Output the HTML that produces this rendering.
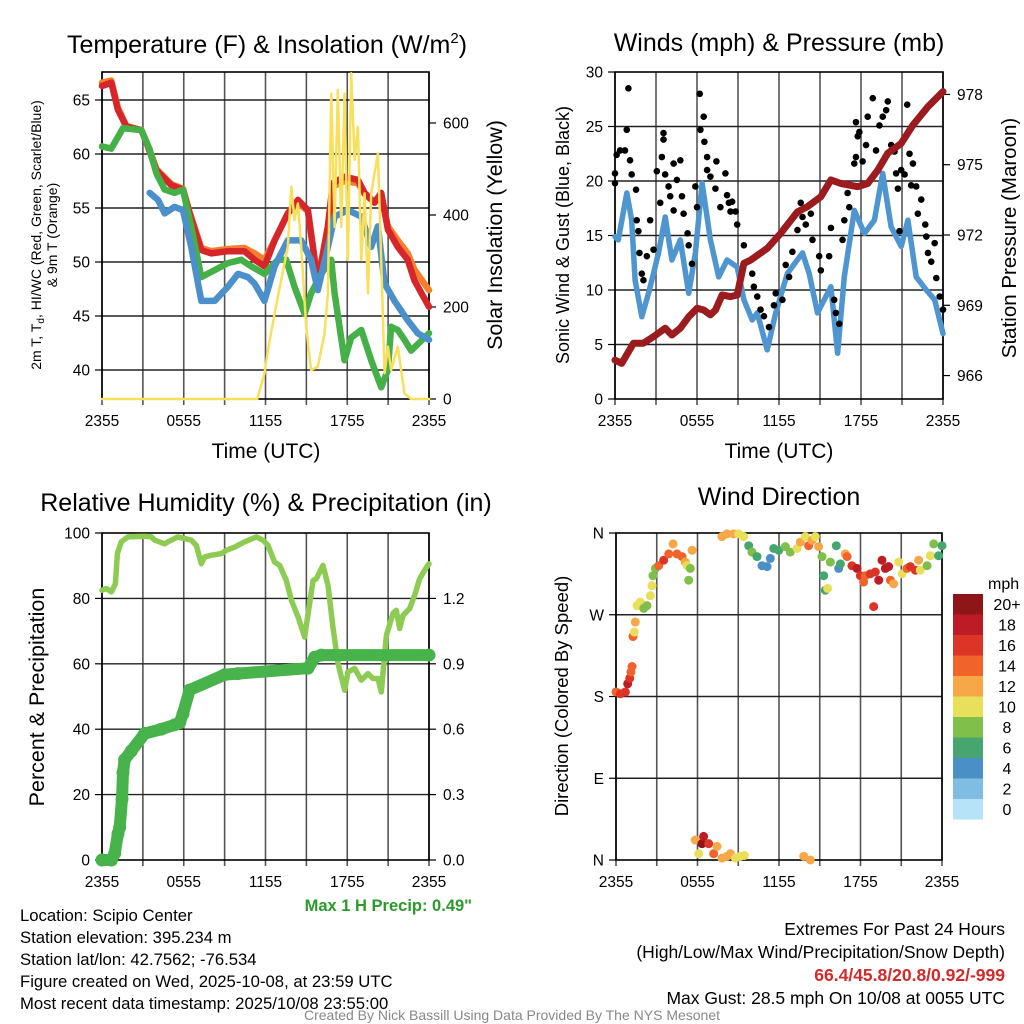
<!DOCTYPE html>
<html><head><meta charset="utf-8"><style>
body{margin:0;background:#fff;}
svg{display:block;font-family:"Liberation Sans",Arial,sans-serif;}
</style></head><body>
<svg id="fig" width="1024" height="1024" viewBox="0 0 1024 1024" xmlns="http://www.w3.org/2000/svg">
<rect width="1024" height="1024" fill="#fff"/>
<g id="p1"></g>
<g id="p2"></g>
<g id="p3"></g>
<g id="p4"></g>
<text x="267" y="53" font-size="25" text-anchor="middle">Temperature (F) &amp; Insolation (W/m<tspan font-size="15" dy="-10">2</tspan><tspan dy="10">)</tspan></text>
<text x="779" y="51" font-size="25" text-anchor="middle">Winds (mph) &amp; Pressure (mb)</text>
<text x="266" y="511" font-size="25" text-anchor="middle">Relative Humidity (%) &amp; Precipitation (in)</text>
<text x="779" y="505" font-size="25" text-anchor="middle">Wind Direction</text>
<text transform="translate(41,235) rotate(-90)" font-size="14" text-anchor="middle">2m T, T<tspan font-size="10" dy="3">d</tspan><tspan dy="-3">, HI/WC (Red, Green, Scarlet/Blue)</tspan></text>
<text transform="translate(57,235) rotate(-90)" font-size="14" text-anchor="middle">&amp; 9m T (Orange)</text>
<text transform="translate(502,235) rotate(-90)" font-size="21.5" text-anchor="middle">Solar Insolation (Yellow)</text>
<text transform="translate(569,235) rotate(-90)" font-size="18" text-anchor="middle">Sonic Wind &amp; Gust (Blue, Black)</text>
<text transform="translate(1016,238) rotate(-90)" font-size="20.5" text-anchor="middle">Station Pressure (Maroon)</text>
<text transform="translate(44,697) rotate(-90)" font-size="21.5" text-anchor="middle">Percent &amp; Precipitation</text>
<text transform="translate(568,696) rotate(-90)" font-size="18.5" text-anchor="middle">Direction (Colored By Speed)</text>
<text x="266" y="458" font-size="21" text-anchor="middle">Time (UTC)</text>
<text x="779" y="458" font-size="21" text-anchor="middle">Time (UTC)</text>
<text x="472" y="911" font-size="16.5" font-weight="bold" fill="#2a9a2a" text-anchor="end">Max 1 H Precip: 0.49"</text>
<g font-size="16.7">
<text x="20" y="921">Location: Scipio Center</text>
<text x="20" y="943">Station elevation: 395.234 m</text>
<text x="20" y="965">Station lat/lon: 42.7562; -76.534</text>
<text x="20" y="987">Figure created on Wed, 2025-10-08, at 23:59 UTC</text>
<text x="20" y="1009">Most recent data timestamp: 2025/10/08 23:55:00</text>
</g>
<g font-size="17.5" text-anchor="end">
<text x="1005" y="935">Extremes For Past 24 Hours</text>
<text x="1005" y="958">(High/Low/Max Wind/Precipitation/Snow Depth)</text>
<text x="1005" y="981" font-weight="bold" fill="#d42a2a">66.4/45.8/20.8/0.92/-999</text>
<text x="1005" y="1004">Max Gust: 28.5 mph On 10/08 at 0055 UTC</text>
</g>
<text x="512" y="1020" font-size="14" fill="#888" text-anchor="middle">Created By Nick Bassill Using Data Provided By The NYS Mesonet</text>
<g id="cbar"></g>
</svg>
<script>
// ---- Temperature panel data (hours since 2355 UTC) ----
const tRedH=[0,0.68,1.17,1.78,2.89,3.37,3.99,5.09,5.94,6.43,7.29,8.02,9.24,10.46,11.2,11.93,12.67,13.64,14.38,15.11,15.84,16.58,16.94,17.8,18.78,19.27,20.0,20.49,20.98,21.71,22.44,22.93,24];
const tRed=[66.3,66.6,64.1,62.55,62.2,60.7,58.5,57.1,56.7,54.5,51.1,50.8,51.0,51.0,50.2,49.6,52.0,54.5,55.75,54.8,48.0,53.3,57.3,57.9,57.6,56.4,55.5,56.4,53.0,51.4,50.2,48.3,45.85];
const tOrange=[66.6,66.8,64.3,62.6,62.2,60.8,58.6,57.2,56.8,54.6,51.3,51.0,51.2,51.3,50.8,50.2,52.0,54.5,55.5,54.7,48.3,53.3,57.0,57.5,57.3,56.3,55.5,56.2,53.3,52.0,50.8,49.3,47.4];
const tGreenH=[0,0.68,1.54,2.89,3.5,3.99,4.6,5.33,5.94,6.55,7.29,9.24,10.22,10.95,11.93,12.91,13.52,14.13,14.87,15.35,16.09,16.82,17.07,17.8,18.29,19.03,19.76,20.49,20.98,21.22,21.71,22.2,22.69,24];
const tGreen=[60.7,60.5,62.4,62.2,60.4,58.2,56.7,56.4,56.7,53.3,48.6,49.9,50.2,49.6,48.9,50.2,50.2,47.7,45.2,47.1,48.9,50.2,47.1,40.9,43.0,43.7,40.9,38.4,40.0,44.0,43.7,42.8,41.8,43.4];
const tBlueH=[3.5,4.11,4.6,5.33,5.94,6.55,7.29,8.27,9.24,9.98,10.71,11.2,11.93,12.67,13.64,14.62,15.35,15.84,16.58,17.07,18.05,19.03,19.76,20.25,20.74,21.47,22.44,23.18,24];
const tBlue=[56.4,55.75,54.5,55.1,54.8,51.4,46.4,46.4,47.7,48.9,48.6,48.0,46.4,49.6,52.0,52.0,50.2,47.4,51.4,54.2,54.8,54.2,51.4,53.3,48.0,46.4,44.6,43.4,42.8];
const solarH=[0,11.4,11.93,12.18,12.67,13.64,13.89,14.13,14.38,14.62,14.99,15.35,15.84,16.33,16.58,16.82,17.07,17.31,17.56,17.8,18.05,18.29,18.54,18.78,19.03,19.27,19.52,19.76,20.25,20.49,20.74,20.98,21.22,21.71,22.2,22.69,24];
const solar=[0,0,56,106,186,331,461,389,425,331,157,63,70,142,230,664,374,672,374,664,302,708,520,592,302,447,230,447,534,302,56,114,63,114,12,0,0];
// ---- Winds panel data ----
const windH=[0,0.24,0.86,1.22,1.47,1.96,2.45,2.82,3.18,3.67,4.16,4.78,5.39,5.88,6.37,6.98,7.59,8.2,8.94,9.43,10.04,10.41,11.14,11.76,12.61,13.72,14.21,14.82,15.8,16.29,16.78,17.51,18.25,18.98,19.59,20.2,20.94,21.43,22.04,22.78,23.39,24];
const wind=[14.9,14.6,18.9,16.4,10.9,7.55,9.7,11.5,13.4,16.7,12.75,14.6,9.7,13.4,19.8,14.6,11.2,12.75,12.1,9.1,7.25,7.9,4.5,7.9,11.5,13.4,11.5,7.9,10.3,4.2,11.2,17.3,15.2,16.4,20.7,15.8,14.0,16.4,11.2,10.0,9.1,6.0];
const gustH=[0,0,0.12,0.37,0.73,0.98,0.86,1.10,1.22,1.54,1.59,1.71,1.79,1.96,2.08,2.33,2.57,2.82,3.06,3.43,3.55,3.55,3.67,3.31,3.92,4.04,4.29,4.78,4.53,4.29,4.90,5.02,5.31,5.39,5.63,5.88,6.00,6.20,6.25,6.49,6.54,6.74,6.74,6.98,7.42,7.35,7.71,8.08,8.20,8.33,8.45,8.57,8.82,8.94,9.43,10.04,10.16,10.41,10.65,10.90,11.27,11.63,11.76,12.25,12.49,12.74,12.98,13.35,13.59,13.72,13.96,14.33,14.45,14.94,15.06,15.67,15.80,16.04,16.16,16.41,16.65,16.78,17.02,17.14,17.51,17.63,17.76,17.88,17.63,18.12,18.37,18.49,18.86,19.10,19.35,19.59,19.84,19.96,20.21,20.45,20.57,20.70,20.82,20.94,21.19,21.38,21.55,21.80,21.67,22.04,22.16,22.41,22.70,22.78,22.90,23.14,23.39,23.51,23.76,24.0];
const gust=[19.8,20.7,22.4,22.8,22.8,28.5,24.7,21.9,20.6,19.2,16.4,15.4,13.4,11.5,10.9,13.1,16.4,13.7,20.9,22.2,24.4,23.8,20.6,18.0,19.5,18.6,21.6,21.9,20.1,17.3,18.6,17.0,15.2,14.1,12.4,19.5,17.6,28.0,24.7,25.9,23.6,22.2,21.0,20.4,21.8,19.3,17.6,20.7,18.7,18.0,17.2,18.1,17.2,16.0,14.1,11.5,10.3,9.4,8.2,7.6,6.6,8.6,9.7,9.1,12.3,11.2,13.5,15.5,18.0,16.7,16.0,17.0,14.6,13.1,11.8,13.1,15.7,9.1,7.9,6.9,14.6,16.4,18.9,17.6,21.6,22.2,24.1,24.5,25.4,21.8,23.3,25.9,27.6,22.8,25.1,25.9,26.5,27.3,23.3,22.7,20.7,19.3,15.4,21.0,20.6,27.0,22.5,21.6,19.6,19.5,17.0,18.3,16.0,14.9,13.4,12.6,14.3,11.1,9.4,8.2];
const presH=[0,0.49,1.35,2.08,2.82,3.67,4.16,4.78,5.39,6.0,6.49,6.98,7.35,7.84,8.45,8.94,9.43,9.92,11.14,12.12,13.35,14.08,15.06,15.8,16.53,17.76,18.49,19.23,19.96,20.94,21.8,22.9,24];
const pres=[966.66,966.52,967.38,967.38,967.66,968.02,967.73,968.02,968.51,968.87,968.80,968.59,968.80,969.44,969.37,969.44,970.79,970.93,971.43,972.07,972.99,973.21,973.63,974.35,974.20,974.06,974.20,974.77,975.49,975.91,976.69,977.48,978.12];
// ---- Humidity panel data ----
const rhH=[0,0.32,0.69,0.98,1.13,1.42,1.91,3.13,3.62,3.87,4.6,4.84,5.58,6.07,6.56,6.92,7.29,7.54,8.02,8.76,9.13,9.74,10.47,11.33,11.82,12.18,12.67,13.04,13.53,13.9,14.39,14.87,15.49,15.73,16.22,16.59,16.95,17.32,17.81,18.05,18.54,19.03,19.52,19.89,20.26,20.5,20.87,21.36,21.6,21.85,22.09,22.58,22.95,23.31,23.68,24];
const rh=[82.5,83.0,82.0,84.5,93.7,97.3,98.8,99.0,98.8,97.8,96.7,97.3,98.8,98.3,97.8,96.2,90.6,92.7,93.2,93.7,94.7,95.7,97.3,98.8,97.8,96.2,91.1,90.1,85.5,79.4,74.3,68.2,85.5,86.0,90.1,84.0,71.3,60.1,51.9,57.5,58.6,55.0,57.0,55.5,55.5,51.4,68.7,75.4,76.4,70.8,74.8,76.9,81.0,86.0,88.6,90.6];
const pcpH=[0,0.69,0.93,1.17,1.30,1.47,1.54,1.66,2.15,3.13,4.35,5.33,5.70,5.94,6.43,9.0,9.98,15.12,15.61,16.1,24];
const pcp=[0,0,0.03,0.12,0.15,0.28,0.40,0.46,0.50,0.58,0.60,0.62,0.63,0.67,0.78,0.85,0.855,0.88,0.93,0.94,0.94];
// ---- Direction panel data ----
const dirH=[0.0,0.32,0.69,0.86,1.01,1.10,1.18,1.25,1.35,1.42,1.55,1.79,2.04,2.28,2.53,2.65,2.72,2.90,3.14,3.51,3.88,4.20,4.49,4.86,5.10,5.23,5.47,5.35,5.60,5.84,6.09,6.33,6.45,6.82,7.19,7.44,7.80,8.17,8.42,8.79,9.15,9.45,7.80,8.17,8.66,9.03,9.40,9.77,10.01,10.38,10.75,11.12,11.36,11.61,11.98,12.47,12.83,13.33,13.57,13.94,14.18,14.43,14.67,14.92,15.17,15.29,15.41,15.58,13.82,14.31,15.78,16.22,16.39,16.52,16.88,17.01,17.37,17.74,17.99,18.23,18.36,18.72,18.97,19.09,19.34,19.58,19.83,20.07,20.20,20.44,20.81,21.06,21.42,21.67,22.04,22.28,22.40,22.90,23.14,23.39,23.75,24.0];
const dirDeg=[185,183,185,194,200,207,213,246,251,262,280,284,277,280,291,302,313,321,324,330,337,348,337,334,328,324,321,308,341,22,7,18,26,18,7,15,2,4,7,2,4,5,356,359,359,359,356,346,339,334,324,323,332,343,341,345,339,343,350,356,346,352,356,345,334,313,297,299,4,0,328,346,321,326,337,334,324,321,313,306,313,315,279,317,308,330,321,323,308,304,328,315,321,323,319,330,319,324,335,348,335,346];
const dirSpd=[15,16,17,18,16,15,14,14,11,12,10,10,8,8,10,10,9,8,14,17,15,13,14,14,12,10,8,9,12,12,10,20,19,17,15,12,12,12,12,11,11,10,12,12,12,11,10,7,8,6,5,5,4,6,7,8,8,10,12,11,15,12,10,12,8,6,6,10,12,12,9,6,4,6,13,15,16,18,17,14,15,16,16,17,18,19,19,18,14,13,10,11,14,16,16,12,11,9,10,8,6,6];
const cbLabels=["20+","18","16","14","12","10","8","6","4","2","0"];
const cbColors=["#8e1619","#bd1c24","#dc3427","#f0632b","#f6a747","#e8e05b","#80c04a","#47a56f","#4a8fc5","#80bde3","#b6e3f7"];
const xTickLabels=["2355","0555","1155","1755","2355"];
const t1Ticks=[40,45,50,55,60,65], s1Ticks=[0,200,400,600];
const w2Ticks=[0,5,10,15,20,25,30], p2Ticks=[966,969,972,975,978];
const rhTicks=[0,20,40,60,80,100], pcpTicks=["0.0","0.3","0.6","0.9","1.2"];
const dirLabels=["N","E","S","W","N"];

const NS="http://www.w3.org/2000/svg";
function mk(tag,attrs,parent){const e=document.createElementNS(NS,tag);for(const k in attrs)e.setAttribute(k,attrs[k]);parent.appendChild(e);return e;}
function lin(d0,d1,r0,r1){return v=>r0+(v-d0)/(d1-d0)*(r1-r0);}
function pathD(xs,ys,fx,fy){return xs.map((h,i)=>(i?'L':'M')+fx(h).toFixed(1)+','+fy(ys[i]).toFixed(1)).join('');}

function frame(g,x0,x1,y0,y1,hLines,nameBase){
  const fx=lin(0,24,x0,x1);
  for(let h=0;h<=24;h+=3){
    const l=mk('line',{x1:fx(h),x2:fx(h),y1:y0,y2:y1+6,stroke:'#555','stroke-width':1.6},g);
    
    
  }
  hLines.forEach(y=>{
    const l=mk('line',{x1:x0,x2:x1,y1:y,y2:y,stroke:'#222','stroke-width':1.4},g);
    
    
  });
  xTickLabels.forEach((s,i)=>{
    const t=mk('text',{x:fx(i*6),y:y1+27,'font-size':15.5,'text-anchor':'middle'},g);t.textContent=s;
    
    
  });
  const r=mk('rect',{x:x0,y:y0,width:x1-x0,height:y1-y0,fill:'none',stroke:'#000','stroke-width':1.6},g);
  
  
  return fx;
}
function leftTicks(g,vals,fy,x0,labels){
  vals.forEach((v,i)=>{
    mk('line',{x1:x0-7,x2:x0,y1:fy(v),y2:fy(v),stroke:'#000','stroke-width':1.2},g);
    const t=mk('text',{x:x0-12,y:fy(v)+5.5,'font-size':15.5,'text-anchor':'end'},g);t.textContent=labels?labels[i]:v;
    
    
  });
}
function rightTicks(g,vals,fy,x1,labels){
  vals.forEach((v,i)=>{
    mk('line',{x1:x1,x2:x1+7,y1:fy(v),y2:fy(v),stroke:'#000','stroke-width':1.2},g);
    const t=mk('text',{x:x1+14,y:fy(v)+5.5,'font-size':15.5,'text-anchor':'start'},g);t.textContent=labels?labels[i]:v;
    
    
  });
}
function line(g,xs,ys,fx,fy,color,w,name){
  const p=mk('path',{d:pathD(xs,ys,fx,fy),fill:'none',stroke:color,'stroke-width':w,'stroke-linejoin':'round','stroke-linecap':'round'},g);
  
  
}

// Panel 1
(function(){
  const g=document.getElementById('p1');const x0=102,x1=429,y0=72,y1=399;
  const fyT=lin(50,60,262,154), fyS=lin(0,600,399,123);
  const fx=frame(g,x0,x1,y0,y1,t1Ticks.map(fyT),'temperature');
  leftTicks(g,t1Ticks,fyT,x0);rightTicks(g,s1Ticks,fyS,x1);
  line(g,tRedH,tOrange,fx,fyT,'#f47f2c',6.5,'temp-9m-orange-line');
  line(g,tRedH,tRed,fx,fyT,'#d7262b',6.5,'temp-2m-red-line');
  line(g,tGreenH,tGreen,fx,fyT,'#45b048',6.5,'dewpoint-green-line');
  line(g,tBlueH,tBlue,fx,fyT,'#4b90ca',6.5,'windchill-blue-line');
  line(g,solarH,solar,fx,fyS,'#f8e05a',2.5,'insolation-yellow-line');
})();
// Panel 2
(function(){
  const g=document.getElementById('p2');const x0=615,x1=943,y0=72,y1=399;
  const fyW=lin(0,30,399,72), fyP=lin(965,979,399,71);
  const fx=frame(g,x0,x1,y0,y1,w2Ticks.slice(1,6).map(fyW),'winds');
  leftTicks(g,w2Ticks,fyW,x0);rightTicks(g,p2Ticks,fyP,x1);
  line(g,windH,wind,fx,fyW,'#4f95d0',5.5,'sonic-wind-line');
  gustH.forEach((h,i)=>{
    const c=mk('circle',{cx:fx(h),cy:fyW(gust[i]),r:3.3,fill:'#000'},g);
    
    
  });
  line(g,presH,pres,fx,fyP,'#9b1b1e',7,'pressure-line');
})();
// Panel 3
(function(){
  const g=document.getElementById('p3');const x0=102,x1=429,y0=533,y1=860;
  const fyR=lin(0,100,860,533), fyI=lin(0,1.5,860,533);
  const fx=frame(g,x0,x1,y0,y1,[20,40,60,80].map(fyR),'humidity');
  leftTicks(g,rhTicks,fyR,x0);rightTicks(g,pcpTicks.map(Number),fyI,x1,pcpTicks);
  line(g,rhH,rh,fx,fyR,'#8ecb52',5.5,'humidity-line');
  line(g,pcpH,pcp,fx,fyI,'#47b34a',12,'precipitation-line');
  pcpH.forEach((h,i)=>{
    const c=mk('circle',{cx:fx(h),cy:fyI(pcp[i]),r:6.5,fill:'#47b34a'},g);
    
    
  });
})();
// Panel 4
(function(){
  const g=document.getElementById('p4');const x0=616,x1=942,y0=533,y1=860;
  const fyD=lin(0,360,860,533);
  const fx=frame(g,x0,x1,y0,y1,[90,180,270].map(fyD),'direction');
  leftTicks(g,[0,90,180,270,360],fyD,x0,dirLabels);
  function col(s){let k=Math.min(10,Math.floor(s/2));return cbColors[10-k];}
  dirH.forEach((h,i)=>{
    const c=mk('circle',{cx:fx(h),cy:fyD(dirDeg[i]),r:4.5,fill:col(dirSpd[i])},g);
    
    
  });
  const cb=document.getElementById('cbar');
  const m=mk('text',{x:988,y:589,'font-size':16},cb);m.textContent='mph';
  cbColors.forEach((c,i)=>{
    const r=mk('rect',{x:953,y:594+i*20.5,width:30,height:20.5,fill:c},cb);
    
    
    const t=mk('text',{x:1007,y:594+i*20.5+16,'font-size':16,'text-anchor':'middle'},cb);t.textContent=cbLabels[i];
    
    
  });
})();
</script>
</body></html>
